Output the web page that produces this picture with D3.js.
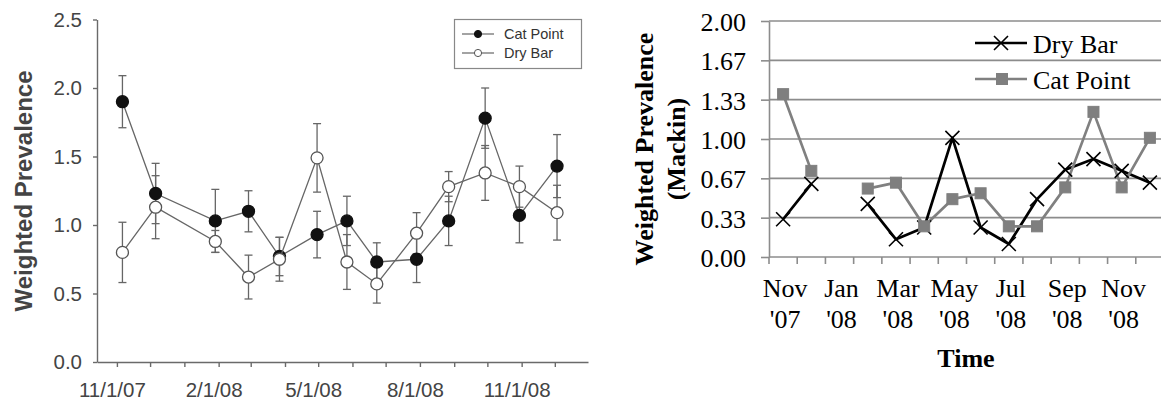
<!DOCTYPE html>
<html>
<head>
<meta charset="utf-8">
<script src="https://cdnjs.cloudflare.com/ajax/libs/d3/7.8.5/d3.min.js"></script>
<style>
  body { margin: 0; background: #fff; }
  svg { display: block; }
</style>
</head>
<body>
<div id="graphArea"></div>
<script>
// left panel (SigmaPlot style, with error bars)
var sampleDates = ["2007-11-06", "2007-12-06", "2008-01-29", "2008-02-28", "2008-03-27", "2008-04-30", "2008-05-27",
                   "2008-06-23", "2008-07-29", "2008-08-27", "2008-09-29", "2008-10-30", "2008-12-03"];
var catPoint = [1.90, 1.23, 1.03, 1.10, 0.77, 0.93, 1.03, 0.73, 0.75, 1.03, 1.78, 1.07, 1.43];
var catPointErr = [0.19, 0.22, 0.23, 0.15, 0.14, 0.17, 0.18, 0.14, 0.17, 0.18, 0.22, 0.20, 0.23];
var dryBar = [0.80, 1.13, 0.88, 0.62, 0.75, 1.49, 0.73, 0.57, 0.94, 1.28, 1.38, 1.28, 1.09];
var dryBarErr = [0.22, 0.23, 0.08, 0.16, 0.16, 0.25, 0.20, 0.14, 0.15, 0.11, 0.20, 0.15, 0.20];
var leftYTicks = [0, 0.5, 1.0, 1.5, 2.0, 2.5];
var leftXLabels = ["2007-11-01", "2008-02-01", "2008-05-01", "2008-08-01", "2008-11-01"];

// right panel (Excel style, monthly categories)
var months = ["Nov '07", "Dec '07", "Jan '08", "Feb '08", "Mar '08", "Apr '08", "May '08",
              "Jun '08", "Jul '08", "Aug '08", "Sep '08", "Oct '08", "Nov '08", "Dec '08"];
var dryBarMackin = [0.32, 0.62, null, 0.45, 0.15, 0.25, 1.01, 0.25, 0.11, 0.49, 0.74, 0.83, 0.73, 0.63];
var catPointMackin = [1.38, 0.73, null, 0.58, 0.63, 0.26, 0.49, 0.54, 0.26, 0.26, 0.59, 1.23, 0.59, 1.01];
var rightYTicks = [0, 1/3, 2/3, 1, 4/3, 5/3, 2];

var W = 1161, H = 405;
var parse = d3.timeParse("%Y-%m-%d");

function drawLeft(svg) {
    var g = svg.append("g").attr("id", "left");
    var axisColor = "#6a6a6a";

    var xScale = d3.scaleTime().domain([parse("2007-10-14"), parse("2008-12-31")]).range([97, 588]);
    var yScale = d3.scaleLinear().domain([0, 2.5]).range([362, 19.5]);

    var monthTicks = d3.timeMonth.range(parse("2007-11-01"), parse("2009-01-01"));
    var labelSet = leftXLabels.map((d) => +parse(d));
    var fmt = d3.timeFormat("%-m/%-d/%y");

    var xAxis = d3.axisBottom(xScale).tickValues(monthTicks).tickSize(5).tickSizeOuter(0)
        .tickFormat((d) => labelSet.indexOf(+d) >= 0 ? fmt(d) : "");
    var xg = g.append("g").attr("transform", "translate(0,362)").call(xAxis);
    xg.selectAll("text").attr("dx", "-5px").attr("dy", "1.3em")
        .style("font-family", "'Liberation Sans', Arial, sans-serif").style("font-size", "20.5px").style("fill", "#444");

    var yAxis = d3.axisLeft(yScale).tickValues(leftYTicks).tickSize(4).tickSizeOuter(0).tickPadding(11)
        .tickFormat(d3.format(".1f"));
    var yg = g.append("g").attr("transform", "translate(97,0)").call(yAxis);
    yg.selectAll("text")
        .style("font-family", "'Liberation Sans', Arial, sans-serif").style("font-size", "20.5px").style("fill", "#444");

    g.selectAll(".domain, .tick line").attr("stroke", axisColor).attr("stroke-width", 1.4);

    g.append("text")
        .attr("transform", "translate(32,191) rotate(-90)")
        .attr("text-anchor", "middle")
        .text("Weighted Prevalence")
        .style("font-family", "'Liberation Sans', Arial, sans-serif")
        .style("font-weight", "bold").style("font-size", "24px").style("fill", "#444");

    var series = [
        { name: "Cat Point", values: catPoint, err: catPointErr, fill: "#111" },
        { name: "Dry Bar", values: dryBar, err: dryBarErr, fill: "#fff" }
    ];

    var line = d3.line().x((d, i) => xScale(parse(sampleDates[i]))).y((d) => yScale(d));

    series.forEach((s) => {
        var sg = g.append("g");
        // error bars
        s.values.forEach((v, i) => {
            var x = xScale(parse(sampleDates[i]));
            var y0 = yScale(v - s.err[i]), y1 = yScale(v + s.err[i]);
            sg.append("line").attr("x1", x).attr("x2", x).attr("y1", y0).attr("y2", y1)
                .attr("stroke", "#666").attr("stroke-width", 1.3);
            [y0, y1].forEach((yy) => {
                sg.append("line").attr("x1", x - 4).attr("x2", x + 4).attr("y1", yy).attr("y2", yy)
                    .attr("stroke", "#666").attr("stroke-width", 1.3);
            });
        });
    });

    series.forEach((s) => {
        var sg = g.append("g");
        sg.append("path").datum(s.values).attr("d", line)
            .attr("fill", "none").attr("stroke", "#666").attr("stroke-width", 1.3);
        sg.selectAll("circle").data(s.values).enter().append("circle")
            .attr("cx", (d, i) => xScale(parse(sampleDates[i])))
            .attr("cy", (d) => yScale(d))
            .attr("r", 6)
            .attr("fill", s.fill)
            .attr("stroke", s.fill === "#fff" ? "#555" : "#111")
            .attr("stroke-width", 1.3);
    });

    // legend
    var lg = g.append("g");
    lg.append("rect").attr("x", 454.5).attr("y", 19.5).attr("width", 127).attr("height", 49)
        .attr("fill", "#fff").attr("stroke", "#888").attr("stroke-width", 1.2);
    series.forEach((s, i) => {
        var y = 34 + i * 19;
        lg.append("line").attr("x1", 462).attr("x2", 494).attr("y1", y).attr("y2", y)
            .attr("stroke", "#666").attr("stroke-width", 1.2);
        lg.append("circle").attr("cx", 478).attr("cy", y).attr("r", 3.6)
            .attr("fill", s.fill).attr("stroke", s.fill === "#fff" ? "#555" : "#111").attr("stroke-width", 1);
        lg.append("text").attr("x", 504).attr("y", y).attr("dy", "0.35em").text(s.name)
            .style("font-family", "'Liberation Sans', Arial, sans-serif").style("font-size", "14.5px").style("fill", "#333");
    });
}

function drawRight(svg) {
    var g = svg.append("g").attr("id", "right");
    var serif = "'Liberation Serif', 'Times New Roman', serif";
    var gridColor = "#8c8c8c";

    var xScale = d3.scaleBand().domain(months).range([769, 1164]);
    var yScale = d3.scaleLinear().domain([0, 2]).range([257, 21]);

    // gridlines
    g.append("g").selectAll("line").data(rightYTicks.slice(1)).enter().append("line")
        .attr("x1", 769).attr("x2", W).attr("y1", (d) => yScale(d)).attr("y2", (d) => yScale(d))
        .attr("stroke", gridColor).attr("stroke-width", 1.6);

    var yAxis = d3.axisLeft(yScale).tickValues(rightYTicks).tickSize(8).tickSizeOuter(0).tickPadding(15)
        .tickFormat(d3.format(".2f"));
    var yg = g.append("g").attr("transform", "translate(769,0)").call(yAxis);
    yg.selectAll("text").style("font-family", serif).style("font-size", "26px").style("fill", "#000")
        .attr("dy", "0.36em");
    yg.selectAll(".domain, .tick line").attr("stroke", gridColor).attr("stroke-width", 1.6);

    // category axis: tick marks at band edges, labels every second month
    var xg = g.append("g");
    xg.append("line").attr("x1", 769).attr("x2", W).attr("y1", 257).attr("y2", 257)
        .attr("stroke", gridColor).attr("stroke-width", 1.6);
    xg.selectAll(".tk").data(months).enter().append("line").attr("class", "tk")
        .attr("x1", (d) => xScale(d)).attr("x2", (d) => xScale(d))
        .attr("y1", 257).attr("y2", 264)
        .attr("stroke", gridColor).attr("stroke-width", 1.6);
    var labels = xg.selectAll(".lb").data(months.filter((d, i) => i % 2 === 0)).enter().append("text")
        .attr("class", "lb")
        .attr("text-anchor", "middle")
        .style("font-family", serif).style("font-size", "26px").style("fill", "#000");
    labels.append("tspan").attr("x", (d) => xScale(d) + xScale.bandwidth() / 2 + 2).attr("y", 297)
        .text((d) => d.split(" ")[0]);
    labels.append("tspan").attr("x", (d) => xScale(d) + xScale.bandwidth() / 2 + 2).attr("y", 328)
        .text((d) => d.split(" ")[1]);

    g.append("text").attr("x", 966).attr("y", 367).attr("text-anchor", "middle").text("Time")
        .style("font-family", serif).style("font-weight", "bold").style("font-size", "26px");

    var yt = g.append("text").attr("transform", "translate(653,149) rotate(-90)").attr("text-anchor", "middle")
        .style("font-family", serif).style("font-weight", "bold").style("font-size", "26px");
    yt.append("tspan").attr("x", 0).attr("y", 0).text("Weighted Prevalence");
    yt.append("tspan").attr("x", 0).attr("y", 32).text("(Mackin)");

    var cx = (d, i) => xScale(months[i]) + xScale.bandwidth() / 2;
    var line = d3.line().defined((d) => d !== null).x(cx).y((d) => yScale(d));

    g.append("path").datum(dryBarMackin).attr("d", line)
        .attr("fill", "none").attr("stroke", "#000").attr("stroke-width", 2.7).attr("stroke-linejoin", "round");
    g.append("path").datum(catPointMackin).attr("d", line)
        .attr("fill", "none").attr("stroke", "#808080").attr("stroke-width", 2.7).attr("stroke-linejoin", "round");

    function cross(sel, x, y) {
        sel.append("path")
            .attr("d", "M" + (x - 7) + "," + (y - 7) + "L" + (x + 7) + "," + (y + 7) + "M" + (x - 7) + "," + (y + 7) + "L" + (x + 7) + "," + (y - 7))
            .attr("stroke", "#000").attr("stroke-width", 1.6).attr("fill", "none");
    }
    function square(sel, x, y) {
        sel.append("rect").attr("x", x - 5.5).attr("y", y - 5.5).attr("width", 11).attr("height", 11)
            .attr("fill", "#7f7f7f").attr("stroke", "#7f7f7f").attr("stroke-width", 1);
    }

    var mg = g.append("g");
    dryBarMackin.forEach((d, i) => { if (d !== null) cross(mg, cx(d, i), yScale(d)); });
    catPointMackin.forEach((d, i) => { if (d !== null) square(mg, cx(d, i), yScale(d)); });

    // legend
    var lg = g.append("g");
    lg.append("line").attr("x1", 975).attr("x2", 1027).attr("y1", 43).attr("y2", 43)
        .attr("stroke", "#000").attr("stroke-width", 2.7);
    cross(lg, 1001, 43);
    lg.append("text").attr("x", 1033).attr("y", 53).text("Dry Bar")
        .style("font-family", serif).style("font-size", "26px");
    lg.append("line").attr("x1", 975).attr("x2", 1027).attr("y1", 79).attr("y2", 79)
        .attr("stroke", "#808080").attr("stroke-width", 2.7);
    square(lg, 1002, 79);
    lg.append("text").attr("x", 1033).attr("y", 89).text("Cat Point")
        .style("font-family", serif).style("font-size", "26px");
}

function visualize() {
    var svg = d3.select("#graphArea").append("svg").attr("width", W).attr("height", H);
    drawLeft(svg);
    drawRight(svg);
}

document.addEventListener('DOMContentLoaded', () => {
    visualize();
});
</script>
</body>
</html>
